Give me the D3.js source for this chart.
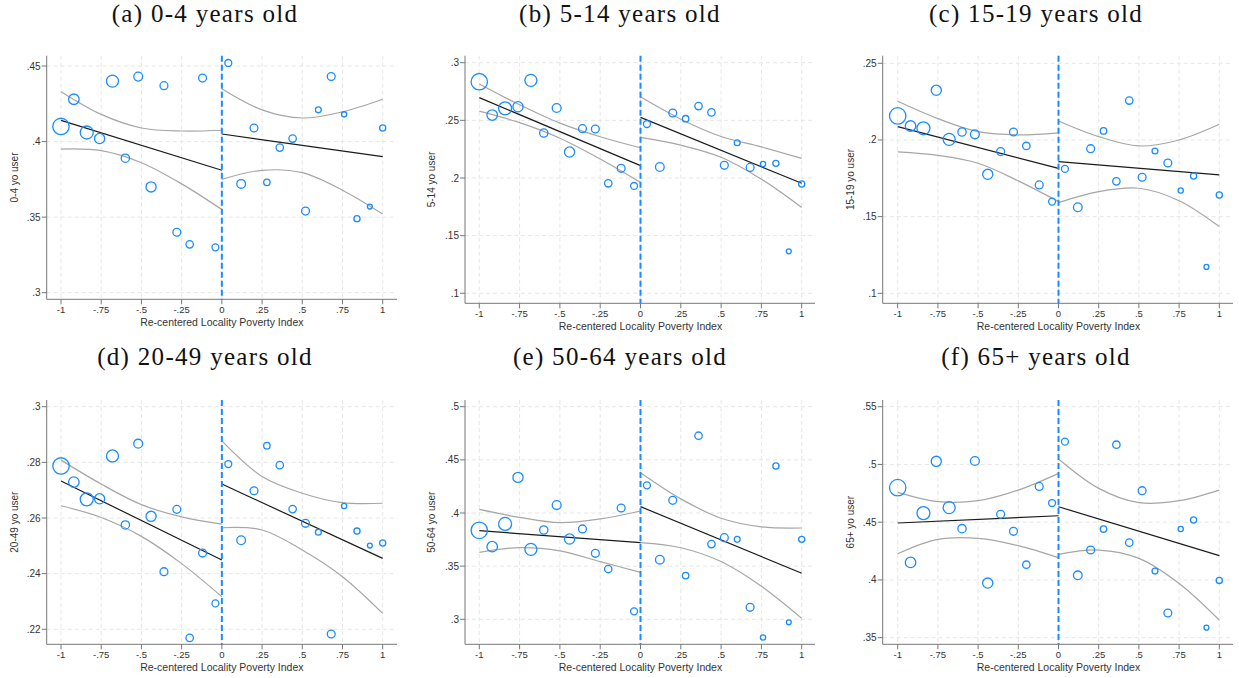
<!DOCTYPE html>
<html lang="en">
<head>
<meta charset="utf-8">
<title>RD plots by age group</title>
<script src="https://d3js.org/d3.v7.min.js"></script>
<style>
  body { margin: 0; background: #fff; }
  svg { display: block; }
</style>
</head>
<body>
<div id="canvas"></div>
<script type="text/javascript">
// bin centres of the re-centered poverty index (13 each side)
const binX = [-1, -0.92, -0.84, -0.76, -0.68, -0.6, -0.52, -0.44, -0.36, -0.28, -0.2, -0.12, -0.04,
              0.04, 0.12, 0.2, 0.28, 0.36, 0.44, 0.52, 0.6, 0.68, 0.76, 0.84, 0.92, 1];
// relative bin weight (marker area)
const binWeight = [78, 32, 49, 30, 42, 20, 23, 30, 18, 18, 16, 18, 14,
                   14, 22, 18, 12, 16, 16, 18, 10, 18, 8, 11, 7, 11];

const titles = ["(a) 0-4 years old", "(b) 5-14 years old", "(c) 15-19 years old",
                "(d) 20-49 years old", "(e) 50-64 years old", "(f) 65+ years old"];
const yLabels = ["0-4 yo user", "5-14 yo user", "15-19 yo user",
                 "20-49 yo user", "50-64 yo user", "65+ yo user"];
const xTicks = [-1, -0.75, -0.5, -0.25, 0, 0.25, 0.5, 0.75, 1];
const ciX = [-1, -0.75, -0.5, -0.25, 0, 0, 0.25, 0.5, 0.75, 1];

// (a) 0-4
const share04 = [.410, .428, .406, .402, .440, .389, .443, .370, .437, .340, .332, .442, .330,
                 .452, .372, .409, .373, .396, .402, .354, .421, .443, .418, .349, .357, .409];
const fit04 = [.414, .381, .405, .390];
const hi04 = [.433, .418, .409, .407, .4075, .435, .421, .4156, .4197, .428];
const lo04 = [.395, .394, .386, .372, .355, .375, .381, .3794, .3678, .352];
const ticks04 = [.3, .35, .4, .45];

// (b) 5-14
const share514 = [.2835, .2546, .2604, .2618, .2847, .239, .2607, .2225, .2428, .2425, .1954, .2084, .1931,
                  .2468, .2095, .2564, .2514, .2624, .2569, .211, .2306, .2092, .2121, .2127, .1364, .1948];
const fit514 = [.2697, .2107, .2526, .1954];
const hi514 = [.2816, .2635, .2476, .2358, .2262, .2704, .2510, .2360, .2270, .2170];
const lo514 = [.2580, .2480, .2345, .2165, .1962, .2352, .2285, .2180, .1990, .1745];
const ticks514 = [.1, .15, .2, .25, .3];

// (c) 15-19
const share1519 = [.2157, .2091, .2076, .2324, .2004, .2052, .2037, .1776, .1924, .2052, .1961, .1707, .1598,
                   .1811, .1561, .1943, .2059, .173, .2257, .1757, .1928, .185, .167, .1765, .1172, .1641];
const fit1519 = [.2087, .1815, .1859, .1772];
const hi1519 = [.2252, .2139, .2054, .2033, .2046, .2124, .2022, .1961, .2, .2102];
const lo1519 = [.1922, .1899, .1848, .1733, .1598, .1591, .1663, .1685, .1604, .1435];
const ticks1519 = [.1, .15, .2, .25];

// (d) 20-49
const share2049 = [.2787, .2729, .2667, .2669, .2823, .2575, .2867, .2606, .2407, .2631, .2169, .2474, .2293,
                   .2794, .252, .2698, .286, .279, .2632, .2581, .2549, .2183, .2643, .2553, .2501, .251];
const fit2049 = [.2733, .2449, .2722, .2455];
const hi2049 = [.2808, .2722, .2648, .2604, .2578, .2877, .2749, .2689, .2655, .2653];
const lo2049 = [.2644, .2602, .2534, .2436, .2317, .2565, .2557, .2485, .2389, .2257];
const ticks2049 = [.22, .24, .26, .28, .3];

// (e) 50-64
const share5064 = [.3837, .3683, .3897, .4335, .3658, .384, .4075, .3755, .385, .3621, .3473, .4047, .3075,
                   .426, .3561, .4119, .3411, .4727, .3708, .3768, .3752, .3113, .2828, .4442, .2972, .3752];
const fit5064 = [.3834, .3721, .406, .3433];
const hi5064 = [.4034, .3959, .3909, .3944, .4019, .4379, .4133, .3951, .387, .3859];
const lo5064 = [.363, .3674, .3643, .3542, .3442, .3721, .3673, .3543, .331, .3009];
const ticks5064 = [.3, .35, .4, .45, .5];

// (f) 65+
const share65 = [.4799, .4152, .4579, .5027, .4626, .4444, .503, .3973, .4568, .4421, .4132, .481, .4666,
                 .5197, .404, .4259, .4441, .5171, .4323, .4773, .4077, .3714, .4441, .4519, .3587, .3996];
const fit65 = [.4493, .4556, .4634, .421];
const hi65 = [.4758, .4678, .4686, .4778, .4923, .5047, .4793, .4669, .4686, .4778];
const lo65 = [.4227, .4351, .436, .4297, .4193, .4221, .4259, .4187, .397, .3653];
const ticks65 = [.35, .4, .45, .5, .55];

const series = [
  {vals: share04, fit: fit04, hi: hi04, lo: lo04, ticks: ticks04},
  {vals: share514, fit: fit514, hi: hi514, lo: lo514, ticks: ticks514},
  {vals: share1519, fit: fit1519, hi: hi1519, lo: lo1519, ticks: ticks1519},
  {vals: share2049, fit: fit2049, hi: hi2049, lo: lo2049, ticks: ticks2049},
  {vals: share5064, fit: fit5064, hi: hi5064, lo: lo5064, ticks: ticks5064},
  {vals: share65, fit: fit65, hi: hi65, lo: lo65, ticks: ticks65}
];

// layout (pixels)
const cols = [
  {axis: 46.7, xm1: 61, xp1: 382.7, right: 397, ytX: 14, tX: 205},
  {axis: 465, xm1: 479.3, xp1: 801.7, right: 815, ytX: 431, tX: 620},
  {axis: 882.7, xm1: 897.7, xp1: 1219.3, right: 1233, ytX: 850, tX: 1036}
];
const rowsY = [
  {top: 55.7, bottom: 299.3, yHi: 66, yLo: 292.7, tY: 22},
  {top: 55.7, bottom: 303.3, yHi: 62.7, yLo: 293.3, tY: 22},
  {top: 55.7, bottom: 303.3, yHi: 63.3, yLo: 293.3, tY: 22},
  {top: 400, bottom: 644.3, yHi: 406.7, yLo: 629.3, tY: 365},
  {top: 400, bottom: 644.3, yHi: 406.7, yLo: 619.3, tY: 365},
  {top: 400, bottom: 644.3, yHi: 406.7, yLo: 637.7, tY: 365}
];

const blue = "#1a8cff";
const fmt = v => v === 0 ? "0" : String(+v.toFixed(3)).replace("0.", ".");

const svg = d3.select("#canvas").append("svg")
    .attr("width", 1239)
    .attr("height", 678)
    .attr("font-family", "'Liberation Sans', Arial, sans-serif");

svg.append("rect").attr("width", 1239).attr("height", 678).attr("fill", "#fff");

const r = d3.scaleSqrt().domain([0, d3.max(binWeight)]).range([0, 8.2]);

series.forEach((s, i) => {
  const c = cols[i % 3], L = rowsY[i];
  const x = d3.scaleLinear().domain([-1, 1]).range([c.xm1, c.xp1]);
  const y = d3.scaleLinear().domain([s.ticks[0], s.ticks[s.ticks.length - 1]]).range([L.yLo, L.yHi]);
  const g = svg.append("g");

  // panel title
  g.append("text")
      .attr("x", c.tX).attr("y", L.tY)
      .attr("text-anchor", "middle")
      .attr("font-family", "'Liberation Serif', 'DejaVu Serif', serif")
      .attr("font-size", 25)
      .attr("letter-spacing", 1.3)
      .attr("fill", "#111")
      .text(titles[i]);

  // grid
  g.append("g").selectAll("line").data(s.ticks).join("line")
      .attr("x1", c.axis).attr("x2", c.right)
      .attr("y1", d => y(d)).attr("y2", d => y(d))
      .attr("stroke", "#e6e6e6").attr("stroke-dasharray", "4,3");
  g.append("g").selectAll("line").data(xTicks).join("line")
      .attr("x1", d => x(d)).attr("x2", d => x(d))
      .attr("y1", L.top).attr("y2", L.bottom)
      .attr("stroke", "#e6e6e6").attr("stroke-dasharray", "4,3");

  // axes
  g.append("line").attr("x1", c.axis).attr("x2", c.axis).attr("y1", L.top).attr("y2", L.bottom)
      .attr("stroke", "#777");
  g.append("line").attr("x1", c.axis).attr("x2", c.right).attr("y1", L.bottom).attr("y2", L.bottom)
      .attr("stroke", "#777");
  g.append("g").selectAll("line").data(s.ticks).join("line")
      .attr("x1", c.axis - 5).attr("x2", c.axis)
      .attr("y1", d => y(d)).attr("y2", d => y(d))
      .attr("stroke", "#777");
  g.append("g").selectAll("text").data(s.ticks).join("text")
      .attr("x", c.axis - 6).attr("y", d => y(d)).attr("dy", "0.35em")
      .attr("text-anchor", "end").attr("font-size", 10).attr("fill", "#333")
      .text(fmt);
  g.append("g").selectAll("line").data(xTicks).join("line")
      .attr("x1", d => x(d)).attr("x2", d => x(d))
      .attr("y1", L.bottom).attr("y2", L.bottom + 5)
      .attr("stroke", "#777");
  g.append("g").selectAll("text").data(xTicks).join("text")
      .attr("x", d => x(d)).attr("y", L.bottom + 14)
      .attr("text-anchor", "middle").attr("font-size", 9.5).attr("fill", "#333")
      .text(fmt);
  g.append("text")
      .attr("x", (c.xm1 + c.xp1) / 2).attr("y", L.bottom + 27)
      .attr("text-anchor", "middle").attr("font-size", 10.5).attr("fill", "#333")
      .text("Re-centered Locality Poverty Index");
  g.append("text")
      .attr("transform", `translate(${c.ytX},${(L.top + L.bottom) / 2}) rotate(-90)`)
      .attr("text-anchor", "middle").attr("dy", "0.35em")
      .attr("font-size", 10).attr("fill", "#333")
      .text(yLabels[i]);

  // confidence bands and fits, each side of the cutoff
  const curve = d3.line().x(d => x(d[0])).y(d => y(d[1])).curve(d3.curveCatmullRom.alpha(0.5));
  [[0, 5], [5, 10]].forEach(([a, b]) => {
    [s.hi, s.lo].forEach(arr => {
      g.append("path")
          .attr("d", curve(d3.range(a, b).map(k => [ciX[k], arr[k]])))
          .attr("fill", "none").attr("stroke", "#a6a6a6").attr("stroke-width", 1.2);
    });
  });
  const fitLine = d3.line().x(d => x(d[0])).y(d => y(d[1]));
  g.append("path").attr("d", fitLine([[-1, s.fit[0]], [0, s.fit[1]]]))
      .attr("fill", "none").attr("stroke", "#1a1a1a").attr("stroke-width", 1.2);
  g.append("path").attr("d", fitLine([[0, s.fit[2]], [1, s.fit[3]]]))
      .attr("fill", "none").attr("stroke", "#1a1a1a").attr("stroke-width", 1.2);

  // cutoff
  g.append("line").attr("x1", x(0)).attr("x2", x(0)).attr("y1", L.top).attr("y2", L.bottom)
      .attr("stroke", blue).attr("stroke-width", 2).attr("stroke-dasharray", "6,3");

  // binned means
  g.append("g").selectAll("circle").data(s.vals).join("circle")
      .attr("cx", (d, k) => x(binX[k]))
      .attr("cy", d => y(d))
      .attr("r", (d, k) => r(binWeight[k]))
      .attr("fill", "none").attr("stroke", blue).attr("stroke-width", 1.3);
});
</script>
</body>
</html>
